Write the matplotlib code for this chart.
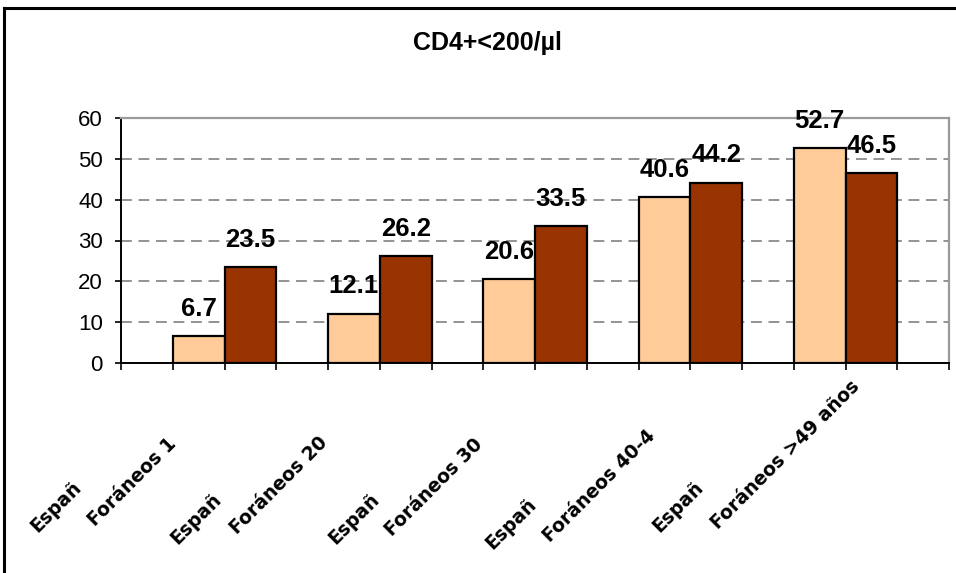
import matplotlib
matplotlib.use("Agg")
import matplotlib.pyplot as plt
from matplotlib.lines import Line2D

# Data
title = "CD4+<200/µl"
group_count = 5
espanoles = [6.7, 12.1, 20.6, 40.6, 52.7]
foraneos = [23.5, 26.2, 33.5, 44.2, 46.5]
bar_labels = ["Españ", "Foráneos 1", "Españ", "Foráneos 20", "Españ",
              "Foráneos 30", "Españ", "Foráneos 40-4", "Españ", "Foráneos >49 años"]
y_ticks = [0, 10, 20, 30, 40, 50, 60]

LIGHT = "#FFCC99"
DARK = "#993300"

W, H = 956, 573
fig = plt.figure(figsize=(W / 100, H / 100), dpi=100)
fig.patch.set_facecolor("white")

# Outer frame (top and left edges)
fig.add_artist(Line2D([4 / W, 1], [1 - 8 / H, 1 - 8 / H], color="black", lw=2.2,
                      transform=fig.transFigure))
fig.add_artist(Line2D([4 / W, 4 / W], [0, 1 - 8 / H], color="black", lw=2.2,
                      transform=fig.transFigure))

ax = fig.add_axes([121 / W, 210 / H, (949 - 121) / W, (363 - 118) / H])
ax.set_xlim(0, 3 * group_count + 1)
ax.set_ylim(0, 60)

# Each group: one empty slot, then Españoles and Foráneos bars
light_x = [1.5 + 3 * i for i in range(group_count)]
dark_x = [2.5 + 3 * i for i in range(group_count)]

ax.bar(light_x, espanoles, width=1.0, color=LIGHT, edgecolor="black", lw=1.6, zorder=3)
ax.bar(dark_x, foraneos, width=1.0, color=DARK, edgecolor="black", lw=1.6, zorder=3)

# Gridlines
for v in y_ticks[1:-1]:
    ax.axhline(v, color="#808080", lw=1.2, ls=(0, (6.5, 4)), zorder=1)

# Spines
for s in ["left", "bottom"]:
    ax.spines[s].set_color("black")
    ax.spines[s].set_linewidth(1.4)
for s in ["top", "right"]:
    ax.spines[s].set_color("#9a9a9a")
    ax.spines[s].set_linewidth(1.6)

ax.set_yticks(y_ticks)
ax.set_yticklabels([str(t) for t in y_ticks], fontsize=16, family="Liberation Sans")
ax.tick_params(axis="y", length=4, width=1.2, pad=9, color="black")
ax.set_xticks(range(0, 3 * group_count + 2))
ax.set_xticklabels([])
ax.tick_params(axis="x", length=5, width=1.2, color="black")

# Value labels above bars
for x, v in list(zip(light_x, espanoles)) + list(zip(dark_x, foraneos)):
    ax.annotate(f"{v:.1f}", xy=(x, v), xytext=(0, 14.5), textcoords="offset points",
                ha="center", va="baseline", fontsize=18.5, fontweight="bold",
                family="Liberation Sans", zorder=5, annotation_clip=False)

# Rotated category labels below the axis (offsets in pixels from each bar centre)
label_offsets = [(-161, 170), (-155, 164), (-176, 182), (-169, 172), (-174, 182),
                 (-169, 174), (-172, 187), (-166, 180), (-160, 170), (-153, 167)]
centres = []
for i in range(group_count):
    centres += [light_x[i], dark_x[i]]
for x, text, (dx, dy) in zip(centres, bar_labels, label_offsets):
    ax.annotate(text, xy=(x, 0), xytext=(dx * 0.72, -dy * 0.72),
                textcoords="offset points", ha="left", va="baseline",
                rotation=45, rotation_mode="anchor", fontsize=13.5,
                fontweight="bold", family="DejaVu Sans", annotation_clip=False)

fig.text(487 / W, 1 - 43 / H, title, ha="center", va="center", fontsize=18,
         fontweight="bold", family="Liberation Sans")

fig.savefig("out.png", dpi=100)
